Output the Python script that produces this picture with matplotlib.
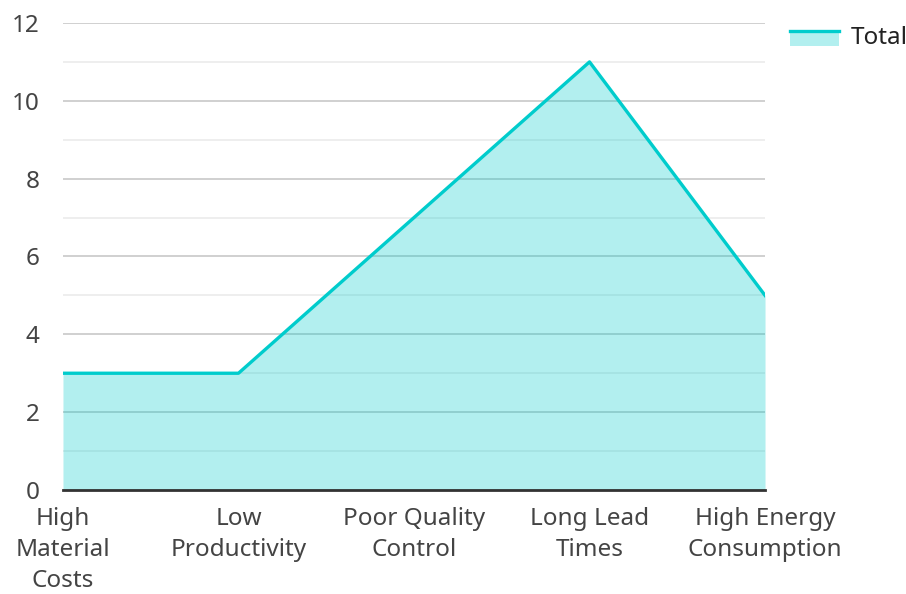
import matplotlib
matplotlib.use("Agg")
import matplotlib.pyplot as plt
from matplotlib.legend_handler import HandlerBase
from matplotlib.patches import Rectangle
from matplotlib.lines import Line2D

# -----------------------------
# DATA
# -----------------------------
categories = [
    "High\nMaterial\nCosts",
    "Low\nProductivity",
    "Poor Quality\nControl",
    "Long Lead\nTimes",
    "High Energy\nConsumption",
]
total_values = [3, 3, 7, 11, 5]
series_name = "Total"

line_color = "#00cccc"
text_color = "#444444"
font_size = 17.5

plt.rcParams["font.family"] = ["Noto Sans", "DejaVu Sans"]


# legend key: filled band with the line along its top edge
class AreaKeyHandler(HandlerBase):
    def create_artists(self, legend, orig_handle, xdescent, ydescent,
                       width, height, fontsize, trans):
        x0 = -xdescent
        y0 = -ydescent
        band = Rectangle((x0, y0 - 0.1 * height), width, height * 0.9,
                         facecolor=line_color, alpha=0.3, edgecolor="none",
                         transform=trans)
        top = y0 + 0.75 * height
        edge = Line2D([x0, x0 + width], [top, top], color=line_color,
                      linewidth=2.4, transform=trans)
        return [band, edge]


# -----------------------------
# FIGURE
# -----------------------------
fig = plt.figure(figsize=(9.06, 5.94), dpi=100)
ax = fig.add_axes([0.0695, 0.1751, 0.7749, 0.7862])

x_positions = list(range(len(categories)))
ax.fill_between(x_positions, total_values, 0, color=line_color, alpha=0.3,
                linewidth=0, zorder=2)
line_handle, = ax.plot(x_positions, total_values, color=line_color,
                       linewidth=2.4, zorder=3, label=series_name)

ax.set_xlim(0, len(categories) - 1)
ax.set_ylim(0, 12)
ax.set_yticks(range(0, 13, 2))
ax.set_yticks(range(1, 13, 2), minor=True)
ax.set_xticks(x_positions)
ax.set_xticklabels(categories, linespacing=1.4)

ax.grid(which="major", axis="y", color="#c8c8c8", linewidth=1.2, zorder=1)
ax.grid(which="minor", axis="y", color="#ebebeb", linewidth=1.2, zorder=1)
ax.set_axisbelow(True)

for side in ["left", "right", "top"]:
    ax.spines[side].set_visible(False)
ax.spines["bottom"].set_color("#333333")
ax.spines["bottom"].set_linewidth(2)
ax.spines["bottom"].set_zorder(4)

ax.tick_params(axis="y", which="both", length=0, pad=17,
               labelsize=font_size, labelcolor=text_color)
ax.tick_params(axis="x", which="both", length=0, pad=12,
               labelsize=font_size, labelcolor=text_color)

ax.legend(handles=[line_handle], handler_map={line_handle: AreaKeyHandler()},
          loc="upper left", bbox_to_anchor=(1.0114, 1.03), frameon=False,
          fontsize=font_size, handlelength=2.0, handletextpad=0.5,
          borderaxespad=0.3, labelcolor="#222222")

fig.savefig("out.png", dpi=100)
